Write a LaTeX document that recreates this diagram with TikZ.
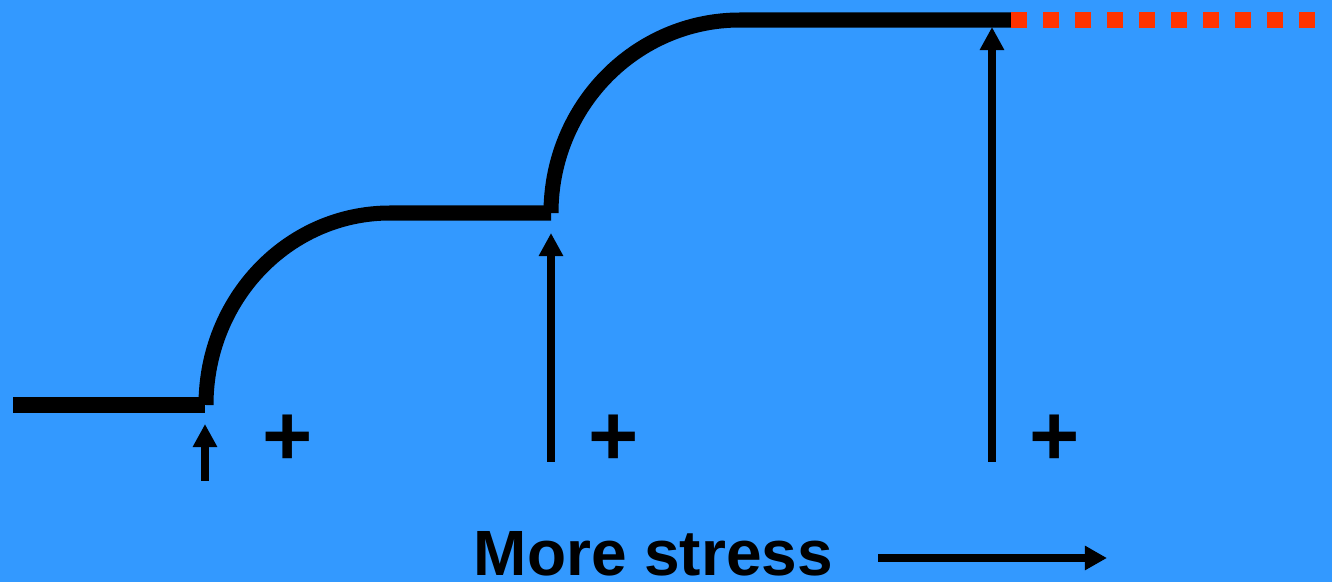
\documentclass[tikz,border=0pt]{standalone}
\usepackage{fontspec}
\setmainfont{Liberation Sans}
\usetikzlibrary{positioning,arrows.meta}
\definecolor{skyblue}{RGB}{51,153,255}
\definecolor{alarmred}{RGB}{255,51,0}

\begin{document}
\begin{tikzpicture}[
  x=0.01cm,
  y=-0.01cm,
  >={Triangle[length=0.23cm,width=0.23cm]},
  stepline/.style={line width=0.15cm, line cap=butt},
  redtail/.style={alarmred, line width=0.16cm, dash pattern=on 0.16cm off 0.16cm},
  push/.style={->, line width=0.08cm},
  plussign/.style={inner sep=0pt, font=\fontsize{24.5}{26}\selectfont\bfseries},
  stresstext/.style={inner sep=0pt, anchor=base west, font=\fontsize{18.2}{20}\selectfont\bfseries}
]
\fill[skyblue] (0,0) rectangle (1332,582);
\useasboundingbox (0,0) rectangle (1332,582);

\coordinate (start) at (13,405);
\coordinate (rise1) at (205,405);
\coordinate (flat1) at (390,213);
\coordinate (rise2) at (551,213);
\coordinate (flat2) at (740,20);
\coordinate (top) at (1011,20);
\coordinate (dots) at (1315,20);

\coordinate (low1) at (205,481);
\coordinate (tip1) at (205,424);
\coordinate (low2) at (551,462);
\coordinate (tip2) at (551,233);
\coordinate (low3) at (992,462);
\coordinate (tip3) at (992,27);

\draw[stepline] (start) -- (rise1);
\draw[stepline] ([xshift=0.01cm]rise1) .. controls (206,299) and (288,213) .. (flat1) -- (rise2);
\draw[stepline] (rise2) .. controls (551,106) and (636,20) .. (flat2) -- (top);
\draw[redtail] (top) -- (dots);

\draw[push] (low1) -- (tip1);
\draw[push] (low2) -- (tip2);
\draw[push] (low3) -- (tip3);

\node[plussign] (plus1) at (288,440) {+};
\node[plussign] (plus2) at (614,440) {+};
\node[plussign] (plus3) at (1055,440) {+};

\node[stresstext] (stress) at (473,576) {More stress};
\coordinate (more) at (1107,558);
\draw[push, >={Triangle[length=0.22cm,width=0.23cm]}] (878,558) -- (more);
\end{tikzpicture}
\end{document}
